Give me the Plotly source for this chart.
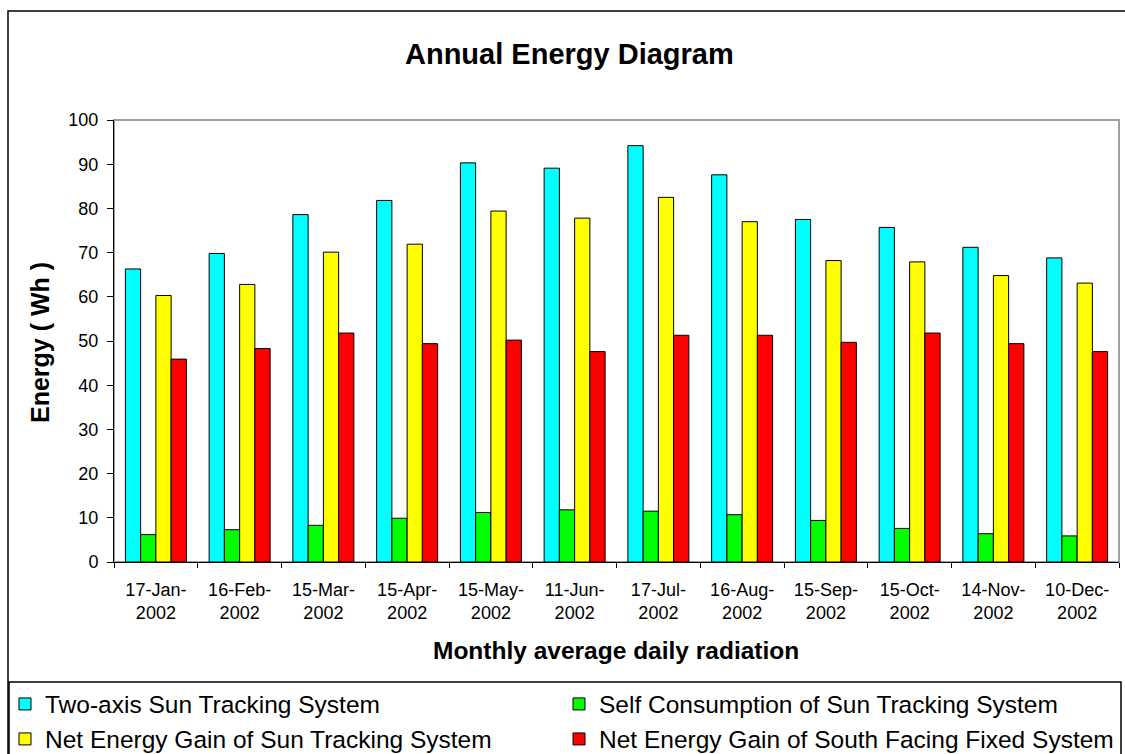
import plotly.graph_objects as go

# Monthly test dates (x categories)
dates = ["17-Jan-<br>2002", "16-Feb-<br>2002", "15-Mar-<br>2002", "15-Apr-<br>2002",
         "15-May-<br>2002", "11-Jun-<br>2002", "17-Jul-<br>2002", "16-Aug-<br>2002",
         "15-Sep-<br>2002", "15-Oct-<br>2002", "14-Nov-<br>2002", "10-Dec-<br>2002"]

# Daily energy (Wh) per series
two_axis_tracking = [66.3, 69.8, 78.6, 81.8, 90.3, 89.1, 94.2, 87.6, 77.5, 75.7, 71.2, 68.8]
self_consumption = [6.2, 7.3, 8.3, 9.9, 11.2, 11.8, 11.5, 10.7, 9.4, 7.6, 6.4, 5.9]
net_gain_tracking = [60.3, 62.8, 70.1, 71.9, 79.4, 77.8, 82.5, 77.0, 68.2, 67.9, 64.8, 63.1]
net_gain_fixed = [45.9, 48.3, 51.8, 49.4, 50.2, 47.6, 51.3, 51.3, 49.7, 51.8, 49.4, 47.6]

series_names = ["Two-axis Sun Tracking System",
                "Self Consumption of Sun Tracking System",
                "Net Energy Gain of Sun Tracking System",
                "Net Energy Gain of South Facing Fixed System"]
series_colors = ["#00FFFF", "#00FF00", "#FFFF00", "#FF0000"]

W, H = 1125, 754
L, R, T, B = 114, 6, 120, 192
PW, PH = W - L - R, H - T - B


def px(x):
    return (x - L) / PW


def py(y):
    return (H - B - y) / PH


# one legend box per entry, laid out as a 2 x 2 grid under the x-axis title
legend_ids = ["legend", "legend2", "legend3", "legend4"]
legend_pos = [(5, 704), (559, 704), (5, 739), (559, 739)]

fig = go.Figure()
for name, vals, col, lg in zip(series_names,
                               [two_axis_tracking, self_consumption, net_gain_tracking, net_gain_fixed],
                               series_colors, legend_ids):
    fig.add_trace(go.Bar(
        x=dates, y=vals, name=name, legend=lg,
        marker=dict(color=col, line=dict(color="black", width=1)),
    ))

font_family = "Liberation Sans, Arial, sans-serif"
legend_layout = {}
for lg, (lx, ly) in zip(legend_ids, legend_pos):
    legend_layout[lg] = dict(
        x=px(lx), y=py(ly), xanchor="left", yanchor="middle",
        orientation="h", bgcolor="rgba(0,0,0,0)", borderwidth=0,
        font=dict(family=font_family, size=24.5, color="black"),
        itemclick=False, itemdoubleclick=False,
    )

fig.update_layout(
    width=W, height=H,
    margin=dict(l=L, r=R, t=T, b=B, pad=0, autoexpand=False),
    paper_bgcolor="white", plot_bgcolor="white",
    barmode="group", bargap=0.272, bargroupgap=0,
    font=dict(family=font_family, color="black"),
    showlegend=True,
    **legend_layout,
    xaxis=dict(
        showline=True, linecolor="black", linewidth=1,
        ticks="outside", tickson="boundaries", ticklen=5, tickcolor="black",
        tickfont=dict(size=18, color="black"), showgrid=False,
        ticklabelstandoff=11,
    ),
    yaxis=dict(
        range=[0, 100], dtick=10, showline=True, linecolor="black", linewidth=1,
        ticks="outside", ticklen=6, tickcolor="black",
        tickfont=dict(size=18, color="black"), showgrid=False, zeroline=False,
        ticklabelstandoff=5,
    ),
    shapes=[
        # plot-area frame (grey top/right edges)
        dict(type="rect", xref="paper", yref="paper", x0=0, x1=1, y0=0, y1=1,
             line=dict(color="#A0A0A0", width=2), layer="below"),
        # outer chart frame
        dict(type="rect", xref="paper", yref="paper", x0=px(8), x1=px(1140),
             y0=py(770), y1=py(11), line=dict(color="black", width=1.5), layer="below"),
        # legend box
        dict(type="rect", xref="paper", yref="paper", x0=px(9), x1=px(1121),
             y0=py(770), y1=py(682), line=dict(color="black", width=1.5), layer="below"),
    ],
    annotations=[
        dict(text="<b>Annual Energy Diagram</b>", xref="paper", yref="paper",
             x=px(569), y=py(54), xanchor="center", yanchor="middle", showarrow=False,
             font=dict(size=29, color="black")),
        dict(text="<b>Energy ( Wh )</b>", xref="paper", yref="paper",
             x=px(40), y=py(343), xanchor="center", yanchor="middle", showarrow=False,
             textangle=-90, font=dict(size=25, color="black")),
        dict(text="<b>Monthly average daily radiation</b>", xref="paper", yref="paper",
             x=px(616), y=py(650), xanchor="center", yanchor="middle", showarrow=False,
             font=dict(size=24.5, color="black")),
    ],
)

fig.write_html("out.html")
